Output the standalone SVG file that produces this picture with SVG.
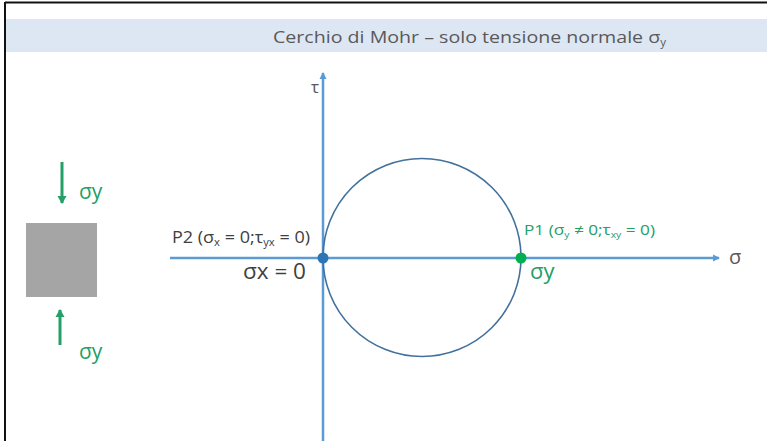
<svg xmlns="http://www.w3.org/2000/svg" width="767" height="441" viewBox="0 0 767 441">
<defs>
<style>
text{font-family:"Open Sans","Noto Sans","Liberation Sans",sans-serif}
.ax{stroke:#5b9bd5;stroke-width:2.5;fill:none}
.gr{stroke:#23a065;stroke-width:3;fill:none}
.dk{fill:#404040}
.gt{fill:#23a065}
</style>
<marker id="ab" markerWidth="8" markerHeight="8" refX="6" refY="4" orient="auto" markerUnits="userSpaceOnUse"><path d="M0,0.5 L7,4 L0,7.5 Z" fill="#5b9bd5"/></marker>
<marker id="ag" markerWidth="10" markerHeight="10" refX="7" refY="5" orient="auto" markerUnits="userSpaceOnUse"><path d="M0,0.5 L8,5 L0,9.5 Z" fill="#23a065"/></marker>
</defs>
<rect width="767" height="441" fill="#fff"/>
<line x1="5" y1="2.5" x2="767" y2="2.5" stroke="#111" stroke-width="2"/>
<line x1="5" y1="2" x2="5" y2="441" stroke="#111" stroke-width="2"/>
<rect x="6" y="19" width="761" height="33" fill="#dde7f3"/>
<text x="273" y="43" font-size="17" fill="#595959" textLength="393" lengthAdjust="spacingAndGlyphs">Cerchio di Mohr – solo tensione normale σ<tspan font-size="10" dy="3">y</tspan></text>
<g id="connectors">
<line class="ax" x1="170" y1="258" x2="719" y2="258" marker-end="url(#ab)"/>
<line class="ax" x1="323" y1="441" x2="323" y2="73" marker-end="url(#ab)"/>
<line class="gr" x1="62" y1="162" x2="62" y2="203" marker-end="url(#ag)"/>
<line class="gr" x1="60" y1="345" x2="60" y2="310" marker-end="url(#ag)"/>
</g>
<g id="circle"><circle cx="422" cy="257.5" r="99" fill="none" stroke="#41719c" stroke-width="1.6"/></g>
<g id="axis-labels">
<text x="729" y="264" font-size="20" fill="#595959">σ</text>
<text x="311" y="93" font-size="17" fill="#595959">τ</text>
</g>
<g id="p2">
<circle cx="323" cy="258" r="5.5" fill="#2e75b6"/>
<text x="172" y="243" font-size="16" class="dk" textLength="138" lengthAdjust="spacingAndGlyphs">P2 (σ<tspan font-size="10" dy="3">x</tspan><tspan dy="-3"> = 0;τ</tspan><tspan font-size="10" dy="3">yx</tspan><tspan dy="-3"> = 0)</tspan></text>
<text x="243" y="279" font-size="22" class="dk" textLength="63" lengthAdjust="spacingAndGlyphs">σx = 0</text>
</g>
<g id="p1">
<circle cx="521" cy="258" r="5.5" fill="#00b050"/>
<text x="524" y="235" font-size="15" class="gt" textLength="131" lengthAdjust="spacingAndGlyphs">P1 (σ<tspan font-size="9" dy="3">y</tspan><tspan dy="-3"> ≠ 0;τ</tspan><tspan font-size="9" dy="3">xy</tspan><tspan dy="-3"> = 0)</tspan></text>
<text x="530" y="279" font-size="22" class="gt">σy</text>
</g>
<g id="element">
<rect x="26" y="223" width="71" height="74" fill="#a5a5a5"/>
<text x="79" y="199" font-size="21" class="gt">σy</text>
<text x="79" y="359" font-size="21" class="gt">σy</text>
</g>
</svg>
